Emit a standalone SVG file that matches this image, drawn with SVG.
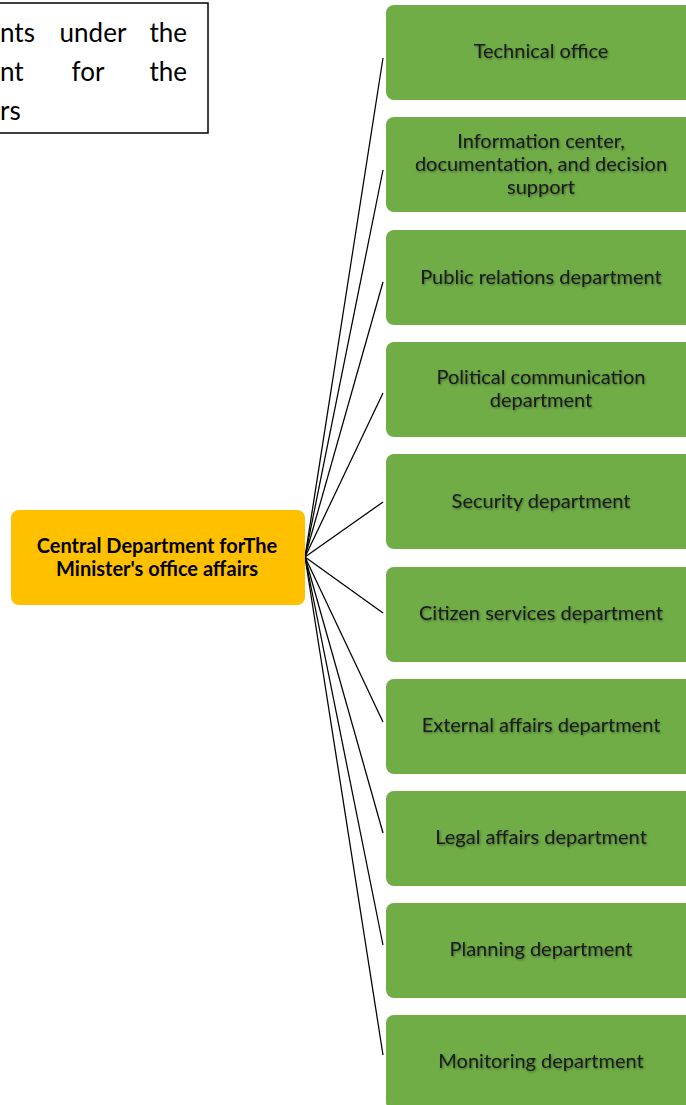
<svg xmlns="http://www.w3.org/2000/svg" width="686" height="1105" viewBox="0 0 686 1105">
<defs>
<filter id="sh" x="-10%" y="-30%" width="120%" height="160%">
<feDropShadow dx="1" dy="1.2" stdDeviation="0.9" flood-color="#000" flood-opacity="0.4"/>
</filter>
</defs>
<style>
.g{fill:#70AD47;}
.o{fill:#FFC000;}
.t{font-family:Lato,"Liberation Sans",sans-serif;font-size:20px;fill:#1a1a1a;text-anchor:middle;}
.c{font-family:Lato,"Liberation Sans",sans-serif;font-size:20px;font-weight:bold;fill:#000;text-anchor:middle;}
.n{font-family:Lato,"Liberation Sans",sans-serif;font-size:26px;fill:#000;}
.l{stroke:#000;stroke-width:1.25;fill:none;}
</style>
<rect width="686" height="1105" fill="#fff"/>
<g id="note">
<rect x="-2" y="3" width="210" height="130" fill="#fff" stroke="#000" stroke-width="1.5"/>
<text class="n" x="0" y="42">nts</text>
<text class="n" x="93" y="42" text-anchor="middle">under</text>
<text class="n" x="187" y="42" text-anchor="end">the</text>
<text class="n" x="0" y="81">nt</text>
<text class="n" x="88" y="81" text-anchor="middle">for</text>
<text class="n" x="187" y="81" text-anchor="end">the</text>
<text class="n" x="0" y="120">rs</text>
</g>
<g id="connectors">
<line class="l" x1="305" y1="557" x2="383" y2="58"/>
<line class="l" x1="305" y1="557" x2="383" y2="170"/>
<line class="l" x1="305" y1="557" x2="383" y2="282"/>
<line class="l" x1="305" y1="557" x2="383" y2="393"/>
<line class="l" x1="305" y1="557" x2="383" y2="502"/>
<line class="l" x1="305" y1="557" x2="383" y2="613"/>
<line class="l" x1="305" y1="557" x2="383" y2="722"/>
<line class="l" x1="305" y1="557" x2="383" y2="833"/>
<line class="l" x1="305" y1="557" x2="383" y2="945"/>
<line class="l" x1="305" y1="557" x2="383" y2="1055"/>
</g>
<g id="central">
<rect class="o" x="11" y="510" width="294" height="95" rx="8"/>
<text class="c" x="157" y="553">Central Department forThe</text>
<text class="c" x="157" y="576">Minister's office affairs</text>
</g>
<g id="n1"><rect class="g" x="386" y="5" width="310" height="95" rx="8"/><text class="t" filter="url(#sh)" x="541" y="58">Technical office</text></g>
<g id="n2"><rect class="g" x="386" y="117" width="310" height="95" rx="8"/><text class="t" filter="url(#sh)" x="541" y="148">Information center,</text><text class="t" filter="url(#sh)" x="541" y="171">documentation, and decision</text><text class="t" filter="url(#sh)" x="541" y="194">support</text></g>
<g id="n3"><rect class="g" x="386" y="230" width="310" height="95" rx="8"/><text class="t" filter="url(#sh)" x="541" y="284">Public relations department</text></g>
<g id="n4"><rect class="g" x="386" y="342" width="310" height="95" rx="8"/><text class="t" filter="url(#sh)" x="541" y="384">Political communication</text><text class="t" filter="url(#sh)" x="541" y="407">department</text></g>
<g id="n5"><rect class="g" x="386" y="454" width="310" height="95" rx="8"/><text class="t" filter="url(#sh)" x="541" y="508">Security department</text></g>
<g id="n6"><rect class="g" x="386" y="567" width="310" height="95" rx="8"/><text class="t" filter="url(#sh)" x="541" y="620">Citizen services department</text></g>
<g id="n7"><rect class="g" x="386" y="679" width="310" height="95" rx="8"/><text class="t" filter="url(#sh)" x="541" y="732">External affairs department</text></g>
<g id="n8"><rect class="g" x="386" y="791" width="310" height="95" rx="8"/><text class="t" filter="url(#sh)" x="541" y="844">Legal affairs department</text></g>
<g id="n9"><rect class="g" x="386" y="903" width="310" height="95" rx="8"/><text class="t" filter="url(#sh)" x="541" y="956">Planning department</text></g>
<g id="n10"><rect class="g" x="386" y="1015" width="310" height="95" rx="8"/><text class="t" filter="url(#sh)" x="541" y="1068">Monitoring department</text></g>
</svg>
